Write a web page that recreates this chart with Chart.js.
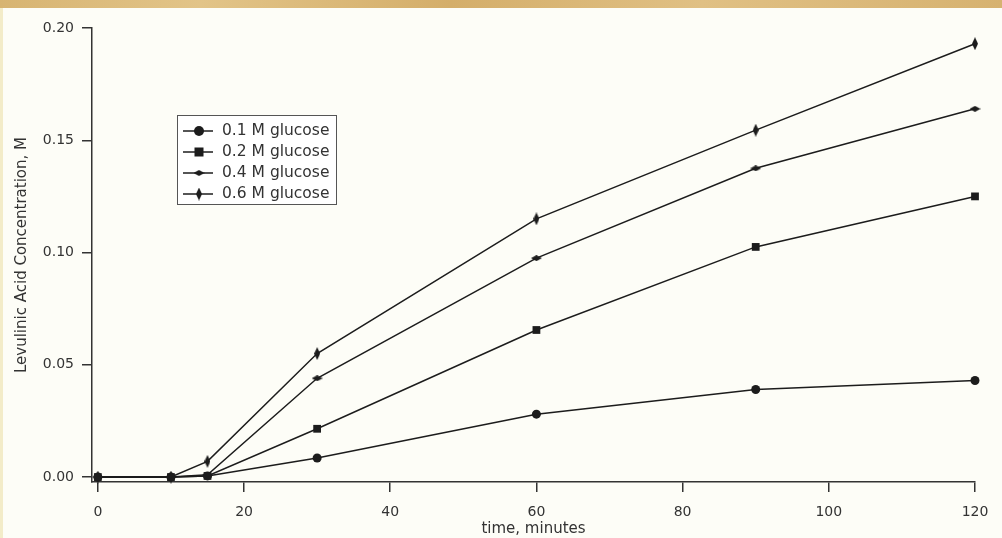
<!DOCTYPE html>
<html>
<head>
<meta charset="utf-8">
<script src="https://cdn.jsdelivr.net/npm/chart.js@4.4.0/dist/chart.umd.min.js"></script>
<style>
  body { margin: 0; background: #fdfdf7; }
  #wrap { position: relative; width: 1002px; height: 538px; overflow: hidden; background: #fdfdf7; }
  #topband { position: absolute; left: 0; top: 0; width: 1002px; height: 8px;
    background: linear-gradient(90deg, #d7b472, #e2c488 20%, #d4ae6a 45%, #e0c084 70%, #d6b270); }
  #leftband { position: absolute; left: 0; top: 8px; width: 3px; height: 530px; background: #f3ecc9; }
  #myChart { position: absolute; left: 0; top: 0; }
  #legend { position: absolute; left: 177px; top: 115px; width: 160px; height: 90px;
    border: 1px solid #555; background: #fff; font-family: "DejaVu Sans", sans-serif;
    font-size: 15.5px; color: #333; padding-top: 4px; box-sizing: border-box; }
  .row { height: 21px; line-height: 21px; white-space: nowrap; }
  .row canvas { vertical-align: middle; margin-left: 5px; margin-right: 9px; }
</style>
</head>
<body>
<div id="wrap">
  <div id="topband"></div>
  <div id="leftband"></div>
  <canvas id="myChart" width="1002" height="538"></canvas>
  <div id="legend"></div>
</div>
<script>
// data
var times = [0, 10, 15, 30, 60, 90, 120];
var glucose01 = [0, 0, 0.0005, 0.0085, 0.028, 0.039, 0.043];
var glucose02 = [0, 0, 0.0005, 0.0215, 0.0655, 0.1025, 0.125];
var glucose04 = [0, 0, 0.001, 0.044, 0.0975, 0.1375, 0.164];
var glucose06 = [0, 0, 0.007, 0.055, 0.115, 0.1545, 0.193];
var seriesNames = ["0.1 M glucose", "0.2 M glucose", "0.4 M glucose", "0.6 M glucose"];
var xTicks = [0, 20, 40, 60, 80, 100, 120];
var yTicks = [0, 0.05, 0.10, 0.15, 0.20];

var ink = "#1c1c1c";

function makeDiamond(w, h) {
    var c = document.createElement("canvas");
    c.width = w; c.height = h;
    var g = c.getContext("2d");
    g.fillStyle = ink;
    g.beginPath();
    g.moveTo(w / 2, 0);
    g.lineTo(w, h / 2);
    g.lineTo(w / 2, h);
    g.lineTo(0, h / 2);
    g.closePath();
    g.fill();
    return c;
}

var flatDiamond = makeDiamond(11, 6);
var tallDiamond = makeDiamond(6, 13);

function toPoints(arr) {
    var pts = [];
    for (var i = 0; i < times.length; i++) {
        pts.push({ x: times[i], y: arr[i] });
    }
    return pts;
}

var styles = [
    { pointStyle: "circle", pointRadius: 4.5 },
    { pointStyle: "rect", pointRadius: 5.5 },
    { pointStyle: flatDiamond, pointRadius: 5 },
    { pointStyle: tallDiamond, pointRadius: 5 }
];
var allSeries = [glucose01, glucose02, glucose04, glucose06];

var datasets = [];
for (var s = 0; s < allSeries.length; s++) {
    datasets.push({
        label: seriesNames[s],
        data: toPoints(allSeries[s]),
        borderColor: ink,
        backgroundColor: ink,
        borderWidth: 1.5,
        pointStyle: styles[s].pointStyle,
        pointRadius: styles[s].pointRadius,
        pointBorderWidth: 0,
        pointBackgroundColor: ink,
        fill: false,
        tension: 0,
        clip: false
    });
}

var tickFont = { family: "DejaVu Sans", size: 14 };
var titleFont = { family: "DejaVu Sans", size: 15 };

var ctx = document.getElementById("myChart");
var chart = new Chart(ctx, {
    type: "line",
    data: { datasets: datasets },
    options: {
        responsive: false,
        animation: false,
        layout: { padding: { top: 28, right: 27, left: 0, bottom: 0 } },
        plugins: { legend: { display: false }, tooltip: { enabled: false } },
        scales: {
            x: {
                type: "linear",
                min: -0.8,
                max: 120,
                afterBuildTicks: function (scale) {
                    scale.ticks = xTicks.map(function (v) { return { value: v }; });
                },
                afterFit: function (scale) { scale.height = 56; },
                grid: { drawOnChartArea: false, drawTicks: true, tickLength: 10, color: "#333", lineWidth: 1.5 },
                border: { display: true, color: "#333", width: 1.5 },
                ticks: { color: "#333", font: tickFont, padding: 12, maxRotation: 0 },
                title: { display: true, text: "time, minutes", color: "#333", font: titleFont, padding: { top: 0, bottom: 0 } }
            },
            y: {
                type: "linear",
                min: -0.0022,
                max: 0.2,
                afterBuildTicks: function (scale) {
                    scale.ticks = yTicks.map(function (v) { return { value: v }; });
                },
                afterFit: function (scale) { scale.width = 92; },
                grid: { drawOnChartArea: false, drawTicks: true, tickLength: 10, color: "#333", lineWidth: 1.5 },
                border: { display: true, color: "#333", width: 1.5 },
                ticks: {
                    color: "#333", font: tickFont, padding: 8,
                    callback: function (v) { return Number(v).toFixed(2); }
                },
                title: { display: true, text: "Levulinic Acid Concentration, M", color: "#333", font: titleFont, padding: { top: 13, bottom: 0 } }
            }
        }
    }
});

// legend drawn as html so the text stays text
var legend = document.getElementById("legend");
for (var k = 0; k < seriesNames.length; k++) {
    var row = document.createElement("div");
    row.className = "row";
    var icon = document.createElement("canvas");
    icon.width = 30; icon.height = 14;
    var g = icon.getContext("2d");
    g.strokeStyle = ink; g.lineWidth = 1.5;
    g.beginPath(); g.moveTo(0, 7); g.lineTo(30, 7); g.stroke();
    g.fillStyle = ink;
    if (k == 0) {
        g.beginPath(); g.arc(16, 7, 5, 0, Math.PI * 2); g.fill();
    } else if (k == 1) {
        g.fillRect(11.5, 2.5, 9, 9);
    } else if (k == 2) {
        g.drawImage(flatDiamond, 16 - 5.5, 7 - 3);
    } else {
        g.drawImage(tallDiamond, 16 - 3, 7 - 6.5);
    }
    row.appendChild(icon);
    var txt = document.createElement("span");
    txt.textContent = seriesNames[k];
    row.appendChild(txt);
    legend.appendChild(row);
}
</script>
</body>
</html>
